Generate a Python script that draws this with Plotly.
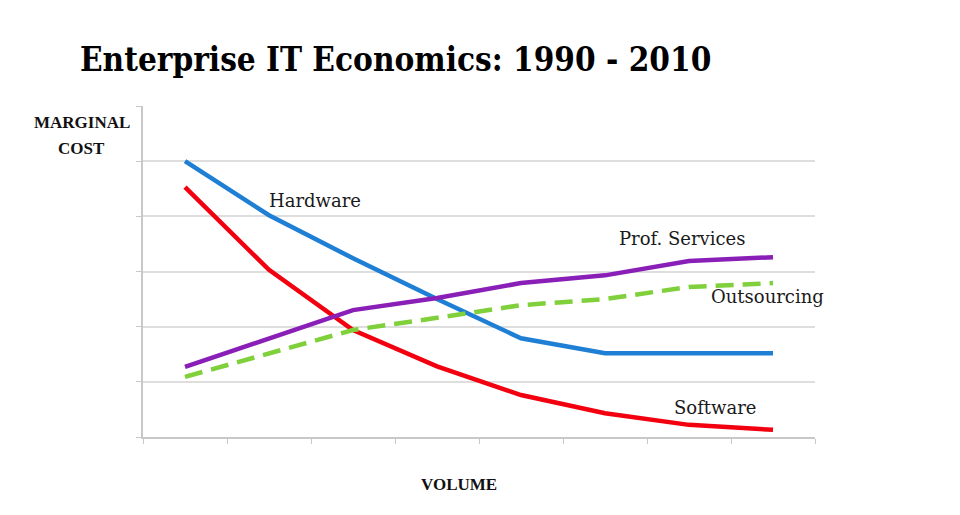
import plotly.graph_objects as go

# 8 volume steps (category positions), marginal cost in chart units
volume = [0, 1, 2, 3, 4, 5, 6, 7]
hardware = [5.0, 4.02, 3.24, 2.5, 1.79, 1.52, 1.52, 1.52]
software = [4.53, 3.03, 1.94, 1.28, 0.76, 0.43, 0.22, 0.13]
prof_services = [1.27, 1.79, 2.30, 2.52, 2.79, 2.93, 3.19, 3.26]
outsourcing = [1.09, 1.52, 1.94, 2.16, 2.39, 2.50, 2.72, 2.79]

serif = 'DejaVu Serif, Liberation Serif, serif'
label_font = dict(family=serif, size=18, color='#1a1a1a')
axis_font = dict(family='Liberation Serif, DejaVu Serif, serif', size=17, color='#111')

fig = go.Figure()

fig.add_trace(go.Scatter(x=volume, y=hardware, name='Hardware', mode='lines',
                         line=dict(color='#1f7fd4', width=4.5)))
fig.add_trace(go.Scatter(x=volume, y=software, name='Software', mode='lines',
                         line=dict(color='#f2000f', width=4.5)))
fig.add_trace(go.Scatter(x=volume, y=prof_services, name='Prof. Services', mode='lines',
                         line=dict(color='#8a1fb8', width=4.5)))
fig.add_trace(go.Scatter(x=volume, y=outsourcing, name='Outsourcing', mode='lines',
                         line=dict(color='#7fd03a', width=4.5, dash='18px,9px')))

# series labels placed beside the lines
fig.add_annotation(x=1.55, y=4.29, text='Hardware', showarrow=False, font=label_font)
fig.add_annotation(x=5.92, y=3.6, text='Prof. Services', showarrow=False, font=label_font)
fig.add_annotation(x=6.94, y=2.55, text='Outsourcing', showarrow=False, font=label_font)
fig.add_annotation(x=6.31, y=0.54, text='Software', showarrow=False, font=label_font)

# axis titles drawn as paper annotations like the original
fig.add_annotation(xref='paper', yref='paper', x=-0.091, y=0.949, xanchor='center', yanchor='middle',
                   text='<b>MARGINAL</b>', showarrow=False, font=axis_font)
fig.add_annotation(xref='paper', yref='paper', x=-0.091, y=0.873, xanchor='center', yanchor='middle',
                   text='<b>COST</b>', showarrow=False, font=axis_font)
fig.add_annotation(xref='paper', yref='paper', x=0.47, y=-0.11, xanchor='center', yanchor='top',
                   text='<b>VOLUME</b>', showarrow=False, font=axis_font)

fig.update_layout(
    width=960, height=515,
    margin=dict(l=135, r=153, t=98, b=86),
    paper_bgcolor='white', plot_bgcolor='white',
    showlegend=False,
    title=dict(text='<b>Enterprise IT Economics: 1990 - 2010</b>', x=0.075, xanchor='left',
               yref='container', y=0.922, yanchor='top',
               font=dict(family='DejaVu Serif Condensed, DejaVu Serif, serif', size=33, color='#000')),
    xaxis=dict(range=[-0.5, 7.5], tickmode='array', tickvals=[-0.5 + i for i in range(9)],
               showticklabels=False, ticks='outside', ticklen=5, tickcolor='#c8c8c8',
               showgrid=False, zeroline=False, showline=True, linecolor='#c8c8c8', linewidth=1.5),
    yaxis=dict(range=[0, 6], tickmode='array', tickvals=[0, 1, 2, 3, 4, 5, 6],
               showticklabels=False, ticks='outside', ticklen=5, tickcolor='#c8c8c8',
               showgrid=True, gridcolor='#dedede', gridwidth=1.5, zeroline=False,
               showline=True, linecolor='#c8c8c8', linewidth=1.5),
)

fig.write_html('out.html')
